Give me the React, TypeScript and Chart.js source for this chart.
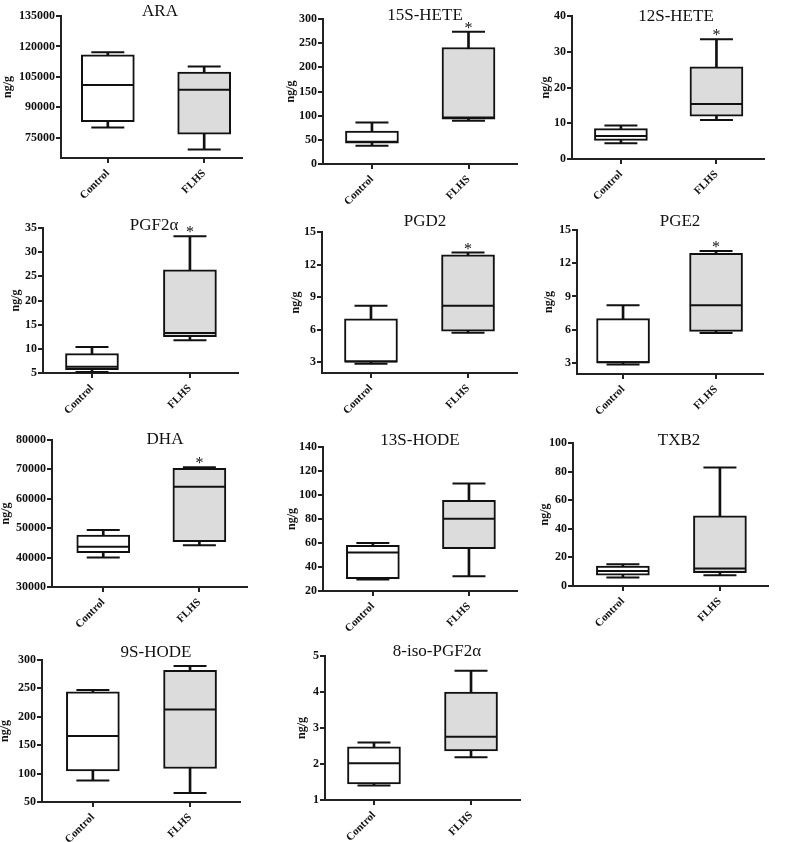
import React, { useEffect, useRef } from 'react';
import { Chart, registerables } from 'chart.js';

Chart.register(...registerables);

const categories = ['Control', 'FLHS'];

// five-number summaries: [min, q1, median, q3, max] (ng/g)
const araControl = [80000, 82900, 101000, 115800, 117100];
const araFlhs = [69200, 76700, 98700, 107300, 110100];
const araTicks = [75000, 90000, 105000, 120000, 135000];

const hete15Control = [38, 43, 46, 68, 86];
const hete15Flhs = [89.6, 93, 96, 241, 273.7];
const hete15Ticks = [0, 50, 100, 150, 200, 250, 300];

const hete12Control = [4.4, 5.2, 6.4, 8.5, 9.4];
const hete12Flhs = [10.9, 12.0, 15.4, 25.8, 33.5];
const hete12Ticks = [0, 10, 20, 30, 40];

const pgf2aControl = [5.2, 5.7, 6.3, 9.0, 10.4];
const pgf2aFlhs = [11.8, 12.5, 13.3, 26.35, 33.3];
const pgf2aTicks = [5, 10, 15, 20, 25, 30, 35];

const pgd2Control = [2.85, 3.0, 3.05, 7.0, 8.2];
const pgd2Flhs = [5.7, 5.85, 8.2, 12.9, 13.1];
const pgd2Ticks = [3, 6, 9, 12, 15];

const pge2Control = [2.85, 3.0, 3.05, 7.0, 8.2];
const pge2Flhs = [5.7, 5.85, 8.2, 12.9, 13.1];
const pge2Ticks = [3, 6, 9, 12, 15];

const dhaControl = [40000, 41700, 43700, 47700, 49400];
const dhaFlhs = [44200, 45400, 64100, 70350, 70700];
const dhaTicks = [30000, 40000, 50000, 60000, 70000, 80000];

const hode13Control = [29.5, 30.3, 52, 58, 60];
const hode13Flhs = [32.2, 55.3, 80.3, 95.6, 109.5];
const hode13Ticks = [20, 40, 60, 80, 100, 120, 140];

const txb2Control = [5.9, 7.5, 10.5, 14.0, 15.2];
const txb2Flhs = [7.5, 9.4, 12.2, 49.1, 82.8];
const txb2Ticks = [0, 20, 40, 60, 80, 100];

const hode9Control = [88, 104.6, 166, 244, 247];
const hode9Flhs = [66, 108.9, 212.9, 281.8, 289.4];
const hode9Ticks = [50, 100, 150, 200, 250, 300];

const isoControl = [1.4, 1.45, 2.02, 2.48, 2.6];
const isoFlhs = [2.19, 2.36, 2.76, 4.0, 4.59];
const isoTicks = [1, 2, 3, 4, 5];

const FONT = '"Liberation Serif", "Times New Roman", serif';
const INK = '#111111';
const AXIS = '#222222';
const BOX_FILLS = ['#ffffff', '#dcdcdc'];
const YW = 70;
const TOP = 30;
const RIGHT = 8;
const XH = 60;

// layout: L/R = x-axis start/end px, T/B = y pixel of yMax/yMin, c/f = Control/FLHS tick px
const panels = [
  { title: 'ARA', control: araControl, flhs: araFlhs, ticks: araTicks, yMin: 65000, yMax: 135000, star: false,
    geo: { L: 61, T: 16, B: 158, R: 262, c: 113, f: 220 }, tx: 160, ty: 12, yl: 7.5 },
  { title: '15S-HETE', control: hete15Control, flhs: hete15Flhs, ticks: hete15Ticks, yMin: 0, yMax: 300, star: true,
    geo: { L: 323, T: 19, B: 164, R: 537, c: 377, f: 483.5 }, tx: 425, ty: 16, yl: 291 },
  { title: '12S-HETE', control: hete12Control, flhs: hete12Flhs, ticks: hete12Ticks, yMin: 0, yMax: 40, star: true,
    geo: { L: 572, T: 16, B: 159, R: 784, c: 626, f: 731.5 }, tx: 676, ty: 17, yl: 546 },
  { title: 'PGF2α', control: pgf2aControl, flhs: pgf2aFlhs, ticks: pgf2aTicks, yMin: 5, yMax: 35, star: true,
    geo: { L: 43, T: 228, B: 373, R: 258, c: 97, f: 205 }, tx: 154, ty: 226, yl: 16 },
  { title: 'PGD2', control: pgd2Control, flhs: pgd2Flhs, ticks: pgd2Ticks, yMin: 2, yMax: 15, star: true,
    geo: { L: 322, T: 232, B: 373, R: 537, c: 376, f: 483 }, tx: 425, ty: 222, yl: 296 },
  { title: 'PGE2', control: pge2Control, flhs: pge2Flhs, ticks: pge2Ticks, yMin: 2, yMax: 15, star: true,
    geo: { L: 577, T: 230, B: 374, R: 783, c: 628, f: 731 }, tx: 680, ty: 222, yl: 549 },
  { title: 'DHA', control: dhaControl, flhs: dhaFlhs, ticks: dhaTicks, yMin: 30000, yMax: 80000, star: true,
    geo: { L: 52, T: 440, B: 587, R: 267, c: 108.5, f: 214.5 }, tx: 165, ty: 440, yl: 6 },
  { title: '13S-HODE', control: hode13Control, flhs: hode13Flhs, ticks: hode13Ticks, yMin: 20, yMax: 140, star: false,
    geo: { L: 323, T: 447, B: 591, R: 537, c: 378, f: 484 }, tx: 420, ty: 441, yl: 292 },
  { title: 'TXB2', control: txb2Control, flhs: txb2Flhs, ticks: txb2Ticks, yMin: 0, yMax: 100, star: false,
    geo: { L: 573, T: 443, B: 586, R: 788, c: 628, f: 735 }, tx: 679, ty: 441, yl: 545 },
  { title: '9S-HODE', control: hode9Control, flhs: hode9Flhs, ticks: hode9Ticks, yMin: 50, yMax: 300, star: false,
    geo: { L: 42, T: 660, B: 802, R: 260, c: 98, f: 205 }, tx: 156, ty: 653, yl: 5 },
  { title: '8-iso-PGF2α', control: isoControl, flhs: isoFlhs, ticks: isoTicks, yMin: 1, yMax: 5, star: false,
    geo: { L: 325, T: 656, B: 800, R: 540, c: 379, f: 486 }, tx: 437, ty: 652, yl: 302 },
];

const annotate = {
  id: 'annotate',
  afterDraw(chart: any, _args: any, opts: any) {
    const { ctx } = chart;
    ctx.save();
    ctx.fillStyle = INK;
    ctx.textAlign = 'center';
    ctx.textBaseline = 'middle';
    ctx.font = `17px ${FONT}`;
    ctx.fillText(opts.title, opts.tx, opts.ty);
    if (opts.star) {
      const x = chart.scales.x.getPixelForValue(2);
      const y = chart.scales.y.getPixelForValue(opts.starValue);
      ctx.font = `16px ${FONT}`;
      ctx.textBaseline = 'alphabetic';
      ctx.fillText('*', x, y + 1);
    }
    ctx.restore();
  },
};

function Panel({ p }: { p: any }) {
  const ref = useRef<HTMLCanvasElement | null>(null);
  const g = p.geo;
  const canvasLeft = Math.round(g.L - YW);
  const canvasTop = Math.round(g.T - TOP);
  const width = Math.round(g.R - g.L + YW + RIGHT);
  const height = Math.round(g.B - g.T + TOP + XH);

  useEffect(() => {
    if (!ref.current) return;
    const unit = g.f - g.c;
    const xMin = 1 - (g.c - g.L) / unit;
    const xMax = 2 + (g.R - g.f) / unit;
    const c = p.control;
    const f = p.flhs;
    const yTickFont = { family: FONT, weight: 'bold' as const, size: 12 };
    const xTickFont = { family: FONT, weight: 'bold' as const, size: 11 };
    const chart = new Chart(ref.current, {
      type: 'bar',
      data: {
        datasets: [
          {
            type: 'scatter',
            label: 'median',
            data: [{ x: 1, y: c[2] }, { x: 2, y: f[2] }],
            pointStyle: 'line',
            pointRadius: 26,
            borderColor: INK,
            borderWidth: 2,
            order: 0,
          } as any,
          {
            type: 'scatter',
            label: 'caps',
            data: [{ x: 1, y: c[0] }, { x: 1, y: c[4] }, { x: 2, y: f[0] }, { x: 2, y: f[4] }],
            pointStyle: 'line',
            pointRadius: 16.5,
            borderColor: INK,
            borderWidth: 2,
            order: 1,
          } as any,
          {
            type: 'bar',
            label: 'box',
            data: [{ x: 1, y: [c[1], c[3]] }, { x: 2, y: [f[1], f[3]] }],
            backgroundColor: BOX_FILLS,
            borderColor: INK,
            borderWidth: 2,
            borderSkipped: false,
            barThickness: 53,
            grouped: false,
            order: 2,
          } as any,
          {
            type: 'bar',
            label: 'whisker',
            data: [{ x: 1, y: [c[0], c[4]] }, { x: 2, y: [f[0], f[4]] }],
            backgroundColor: INK,
            borderWidth: 0,
            barThickness: 2,
            grouped: false,
            order: 3,
          } as any,
        ],
      },
      options: {
        responsive: false,
        animation: false,
        devicePixelRatio: 1,
        layout: { padding: { left: 0, top: TOP, right: RIGHT, bottom: 0 } },
        plugins: {
          legend: { display: false },
          tooltip: { enabled: false },
          title: { display: false },
          annotate: {
            title: p.title,
            tx: p.tx - canvasLeft,
            ty: p.ty - canvasTop,
            star: p.star,
            starValue: f[4],
          },
        } as any,
        scales: {
          x: {
            type: 'linear',
            min: xMin,
            max: xMax,
            offset: false,
            afterBuildTicks: (s: any) => {
              s.ticks = categories.map((_, i) => ({ value: i + 1 }));
            },
            afterFit: (s: any) => {
              s.height = XH;
            },
            ticks: {
              callback: (v: any) => categories[Math.round(Number(v)) - 1] ?? '',
              autoSkip: false,
              minRotation: 45,
              maxRotation: 45,
              font: xTickFont,
              color: INK,
              padding: 4,
            },
            grid: {
              display: true,
              offset: false,
              drawOnChartArea: false,
              drawTicks: true,
              tickLength: 5,
              color: AXIS,
              lineWidth: 2,
            },
            border: { display: true, color: AXIS, width: 2 },
          },
          y: {
            type: 'linear',
            min: p.yMin,
            max: p.yMax,
            afterBuildTicks: (s: any) => {
              s.ticks = p.ticks.map((v: number) => ({ value: v }));
            },
            afterFit: (s: any) => {
              s.width = YW;
            },
            ticks: {
              callback: (v: any) => String(v),
              font: yTickFont,
              color: INK,
              padding: 1,
            },
            grid: {
              display: true,
              drawOnChartArea: false,
              drawTicks: true,
              tickLength: 5,
              color: AXIS,
              lineWidth: 2,
            },
            border: { display: true, color: AXIS, width: 2 },
            title: {
              display: true,
              text: 'ng/g',
              color: INK,
              font: { family: FONT, weight: 'bold', size: 12 },
              padding: { top: p.yl - canvasLeft - 7.2, bottom: 0 },
            },
          },
        },
      } as any,
      plugins: [annotate],
    });
    return () => chart.destroy();
  }, []);

  return (
    <canvas
      ref={ref}
      width={width}
      height={height}
      style={{ position: 'absolute', left: canvasLeft, top: canvasTop, width, height }}
    />
  );
}

export default function App() {
  return (
    <div
      style={{
        position: 'absolute',
        left: 0,
        top: 0,
        width: 791,
        height: 842,
        background: '#ffffff',
        overflow: 'hidden',
      }}
    >
      {panels.map((p) => (
        <Panel key={p.title} p={p} />
      ))}
    </div>
  );
}
